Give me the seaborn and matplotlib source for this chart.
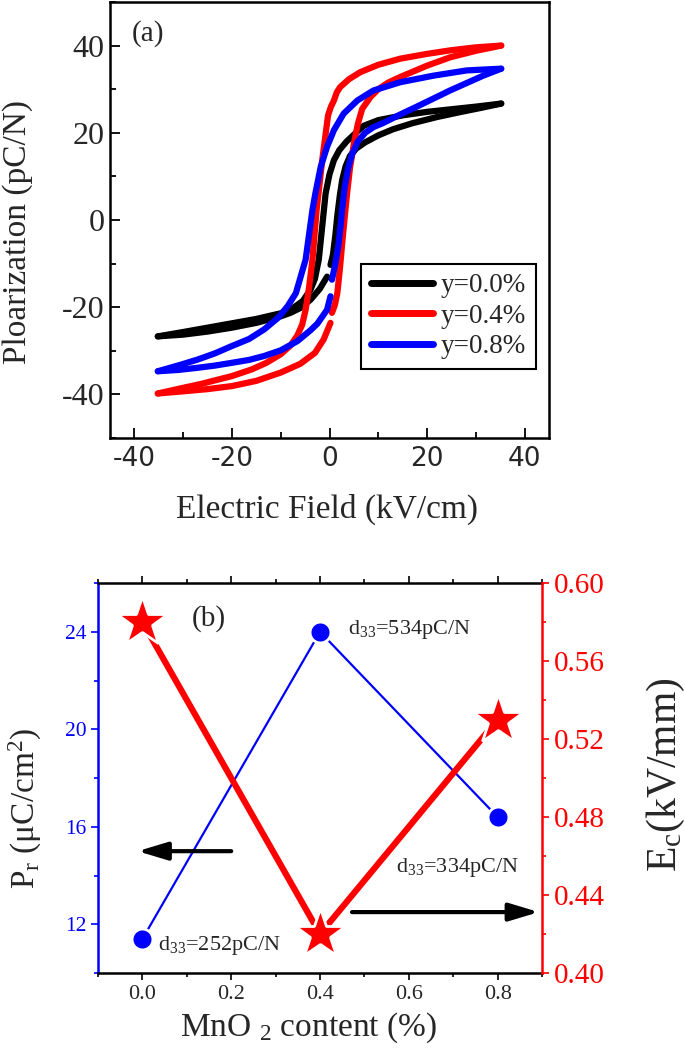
import pandas as pd
import seaborn as sns
import matplotlib.pyplot as plt
from matplotlib.ticker import MultipleLocator

# --- P-E loops: field in kV/cm, polarization in pC/N ---
# upper branch = field sweeping down from +Emax, lower branch = sweeping up (split where the trace breaks)
black_up_E = [35.2, 30, 25, 20, 15, 10, 7, 5.6, 3.5, 2, 0.9, 0, -0.8, -1.5, -2.2, -3, -3.9, -5.5, -8, -10, -15, -20, -25, -30, -35.2]
black_up_P = [26.7, 26.0, 25.4, 24.8, 24.0, 22.9, 21.6, 20.2, 18.0, 16.0, 13.7, 10.5, 6.1, -1.5, -9.1, -13.5, -16.0, -18.6, -20.6, -21.4, -22.7, -23.7, -24.7, -25.7, -26.7]
black_lo1_E = [-35.2, -30, -25, -20, -15, -10, -8, -6, -3.9, -2, -0.5]
black_lo1_P = [-26.7, -26.3, -25.6, -24.7, -23.6, -22.1, -21.3, -20.2, -18.3, -15.8, -13.0]
black_lo2_E = [0.2, 0.7, 1.2, 1.6, 2.1, 2.6, 3.3, 4.2, 5.5, 7.3, 10, 13, 17, 22, 27, 31, 35.2]
black_lo2_P = [-10.3, -8.0, -3.5, 1.0, 5.5, 9.2, 12.3, 14.7, 16.4, 17.8, 19.4, 20.8, 22.2, 23.6, 24.8, 25.7, 26.7]

red_up_E = [35.2, 30, 24.7, 20, 14.5, 10, 6.3, 4.0, 2.9, 2.2, 1.5, 0.9, 0.3, -0.3, -1.5, -2.65, -3.5, -4.2, -4.9, -5.6, -6.6, -8, -10, -13, -16, -20, -26.3, -30, -35.2]
red_up_P = [40.0, 39.6, 38.9, 38.1, 37.0, 35.6, 33.9, 32.3, 31.2, 30.5, 29.3, 27.4, 26.0, 24.0, 13.7, 2.3, -9.1, -15.5, -20.6, -24.0, -26.5, -28.8, -30.8, -32.8, -34.3, -35.8, -37.6, -38.5, -39.8]
red_lo1_E = [-35.2, -30, -25, -20, -15, -10, -6, -3, -1.2, 0.2]
red_lo1_P = [-39.8, -39.3, -38.8, -38.1, -36.9, -35.0, -33.0, -30.5, -27.4, -23.6]
red_lo2_E = [0.5, 1.1, 1.6, 2.1, 2.6, 3.1, 3.6, 4.2, 5.0, 5.8, 6.7, 8.4, 10, 12, 14.5, 20, 24.7, 30, 35.2]
red_lo2_P = [-21.3, -19.5, -16.8, -11.5, -5.3, 0.5, 6.1, 12.0, 17.5, 22.0, 25.5, 28.2, 30.0, 31.5, 32.8, 35.4, 37.3, 38.8, 40.0]

blue_up_E = [35.2, 31.5, 28.1, 21.3, 14.5, 9.0, 5.7, 2.9, 0.9, -0.5, -1.8, -2.9, -3.5, -4.9, -6.9, -8.6, -10.5, -13.4, -16.5, -20.2, -23.5, -27, -30.5, -35.2]
blue_up_P = [34.7, 34.5, 34.3, 33.1, 31.6, 29.7, 27.4, 24.4, 20.6, 16.8, 12.2, 6.1, 2.3, -9.1, -16.8, -19.8, -22.4, -25.1, -27.3, -29.0, -30.6, -32.0, -33.2, -34.7]
blue_lo1_E = [-35.2, -31, -27, -23.5, -20.2, -16.5, -13.4, -10, -6.6, -3.9, -2.5, -0.5, 0.2]
blue_lo1_P = [-34.7, -34.4, -33.9, -33.4, -32.8, -32.1, -31.2, -29.9, -27.8, -25.3, -23.8, -20.6, -17.5]
blue_lo2_E = [0.5, 1.2, 1.8, 2.2, 2.6, 3.1, 3.8, 4.6, 5.8, 7.3, 9.0, 11.1, 14.5, 17.9, 24.7, 31.5, 35.2]
blue_lo2_P = [-13.7, -10.0, -6.0, -2.0, 2.5, 7.5, 11.8, 15.0, 18.0, 20.0, 21.3, 22.3, 24.2, 26.0, 29.7, 33.1, 34.7]

samples = ['y=0.0%', 'y=0.4%', 'y=0.8%']
loop_colors = {'y=0.0%': '#000000', 'y=0.4%': '#FF0000', 'y=0.8%': '#0000FF'}

# --- panel (b) values ---
mno2 = [0.0, 0.4, 0.8]
pr = [11.4, 24.0, 16.4]      # uC/cm2, left axis
ec = [0.58, 0.42, 0.53]      # kV/mm, right axis
d33 = ['252', '534', '334']

# --- long table of loop segments for seaborn ---
segments = [
    ('y=0.0%', 'k_up', black_up_E, black_up_P),
    ('y=0.0%', 'k_lo1', black_lo1_E, black_lo1_P),
    ('y=0.0%', 'k_lo2', black_lo2_E, black_lo2_P),
    ('y=0.4%', 'r_up', red_up_E, red_up_P),
    ('y=0.4%', 'r_lo1', red_lo1_E, red_lo1_P),
    ('y=0.4%', 'r_lo2', red_lo2_E, red_lo2_P),
    ('y=0.8%', 'b_up', blue_up_E, blue_up_P),
    ('y=0.8%', 'b_lo1', blue_lo1_E, blue_lo1_P),
    ('y=0.8%', 'b_lo2', blue_lo2_E, blue_lo2_P),
]
loops = pd.concat([pd.DataFrame({'sample': s, 'seg': g, 'E': e, 'P': p})
                   for s, g, e, p in segments], ignore_index=True)

sns.set_theme(style='ticks')
plt.rcParams['font.family'] = ['Liberation Serif', 'DejaVu Serif']
plt.rcParams['mathtext.fontset'] = 'custom'
plt.rcParams['mathtext.rm'] = 'Liberation Serif'
plt.rcParams['mathtext.it'] = 'Liberation Serif:italic'
plt.rcParams['axes.unicode_minus'] = False
plt.rcParams['axes.edgecolor'] = 'black'

fig = plt.figure(figsize=(6.85, 10.5), dpi=100)

# --- (a) hysteresis loops ---
ax1 = fig.add_axes([0.1606, 0.5829, 0.6409, 0.4152])
sns.lineplot(data=loops, x='E', y='P', hue='sample', hue_order=samples, units='seg',
             estimator=None, sort=False, palette=loop_colors, lw=4.5,
             solid_capstyle='round', solid_joinstyle='round', ax=ax1)
ax1.set_xlim(-45, 45)
ax1.set_ylim(-50, 50)
ax1.xaxis.set_major_locator(MultipleLocator(20))
ax1.xaxis.set_minor_locator(MultipleLocator(10))
ax1.yaxis.set_major_locator(MultipleLocator(20))
ax1.yaxis.set_minor_locator(MultipleLocator(10))
ax1.tick_params(which='both', direction='in', width=1.3, color='black')
ax1.tick_params(which='major', length=7)
ax1.tick_params(which='minor', length=4)
ax1.tick_params(axis='y', labelsize=23, pad=4)
ax1.tick_params(axis='x', labelsize=19, pad=6)
for lbl in ax1.get_xticklabels():
    lbl.set_fontfamily('DejaVu Sans')
for sp in ax1.spines.values():
    sp.set_linewidth(1.8)
ax1.set_xlabel('Electric Field (kV/cm)', fontsize=24, va='center')
ax1.xaxis.set_label_coords(0.494, -0.163)
ax1.set_ylabel('Ploarization (pC/N)', fontsize=24, va='center')
ax1.yaxis.set_label_coords(-0.21, 0.472)
ax1.text(-40.6, 41.1, '(a)', fontsize=21, ha='left', va='baseline')
sns.move_legend(ax1, 'upper left', bbox_to_anchor=(0.572, 0.399), title=None,
                frameon=True, fancybox=False, edgecolor='black', framealpha=1,
                fontsize=19.5, handlelength=2.3, handletextpad=0.3,
                labelspacing=0.2, borderpad=0.35, borderaxespad=0)
leg = ax1.get_legend()
leg.get_frame().set_linewidth(1.5)
for h in leg.get_lines():
    h.set_linewidth(5)

# --- (b) Pr and Ec vs MnO2 content ---
ax2 = fig.add_axes([0.1431, 0.0733, 0.6482, 0.3714])
sns.lineplot(x=mno2, y=pr, color='#0000FF', marker='o', ms=15, lw=1.6,
             mec='white', mew=2, ax=ax2)
ax2.set_xlim(-0.1, 0.9)
ax2.set_ylim(10, 26)
ax2.xaxis.set_major_locator(MultipleLocator(0.2))
ax2.xaxis.set_minor_locator(MultipleLocator(0.1))
ax2.yaxis.set_major_locator(MultipleLocator(4))
ax2.yaxis.set_minor_locator(MultipleLocator(2))
ax2.tick_params(which='both', direction='out', width=1.2)
ax2.tick_params(which='major', length=5)
ax2.tick_params(which='minor', length=3)
ax2.tick_params(axis='x', labelsize=16, top=True, which='both', color='black')
ax2.tick_params(axis='y', labelsize=15.5, colors='#0000FF', which='both')
ax2.spines['left'].set_color('#0000FF')
ax2.spines['right'].set_visible(False)
for sp in ax2.spines.values():
    sp.set_linewidth(1.8)
ax2.set_xlabel('MnO $_\\mathregular{2}$ content (%)', fontsize=24, va='center')
ax2.xaxis.set_label_coords(0.473, -0.141)
ax2.set_ylabel('P$_\\mathregular{r}$ (μC/cm$^\\mathregular{2}$)', fontsize=24, va='center')
ax2.yaxis.set_label_coords(-0.164, 0.423)

ax3 = ax2.twinx()
sns.lineplot(x=mno2, y=ec, color='#FF0000', marker='*', ms=38, lw=4.5,
             mec='white', mew=2, ax=ax3)
ax3.set_ylim(0.40, 0.60)
ax3.yaxis.set_major_locator(MultipleLocator(0.04))
ax3.yaxis.set_minor_locator(MultipleLocator(0.02))
ax3.yaxis.set_major_formatter(plt.FormatStrFormatter('%.2f'))
ax3.tick_params(axis='y', which='both', direction='out', colors='#FF0000', width=1.2, labelsize=21)
ax3.tick_params(axis='y', which='major', length=5)
ax3.tick_params(axis='y', which='minor', length=3)
ax3.spines['right'].set_color('#FF0000')
ax3.spines['right'].set_linewidth(1.8)
for side in ['left', 'top', 'bottom']:
    ax3.spines[side].set_visible(False)
ax3.set_ylabel('E$_\\mathregular{c}$(kV/mm)', fontsize=30, va='center', rotation=90)
ax3.yaxis.set_label_coords(1.279, 0.508)

# d33 notes, panel tag and axis arrows (positions in left-axis data units)
ax2.text(0.035, 10.96, 'd$_\\mathregular{33}$=' + d33[0] + 'pC/N', fontsize=16, va='baseline')
ax2.text(0.462, 23.9, 'd$_\\mathregular{33}$=' + d33[1] + 'pC/N', fontsize=16, va='baseline')
ax2.text(0.57, 14.15, 'd$_\\mathregular{33}$=' + d33[2] + 'pC/N', fontsize=16, va='baseline')
ax2.text(0.11, 24.25, '(b)', fontsize=21, va='baseline')
arrow_kw = dict(arrowstyle='-|>,head_length=0.9,head_width=0.27', color='black',
                lw=3, mutation_scale=20, shrinkA=0, shrinkB=0)
ax2.annotate('', xy=(-0.011, 15.0), xytext=(0.2, 15.0), arrowprops=arrow_kw)
ax2.annotate('', xy=(0.893, 12.5), xytext=(0.472, 12.5), arrowprops=arrow_kw)

fig.savefig('out.png', dpi=100)
